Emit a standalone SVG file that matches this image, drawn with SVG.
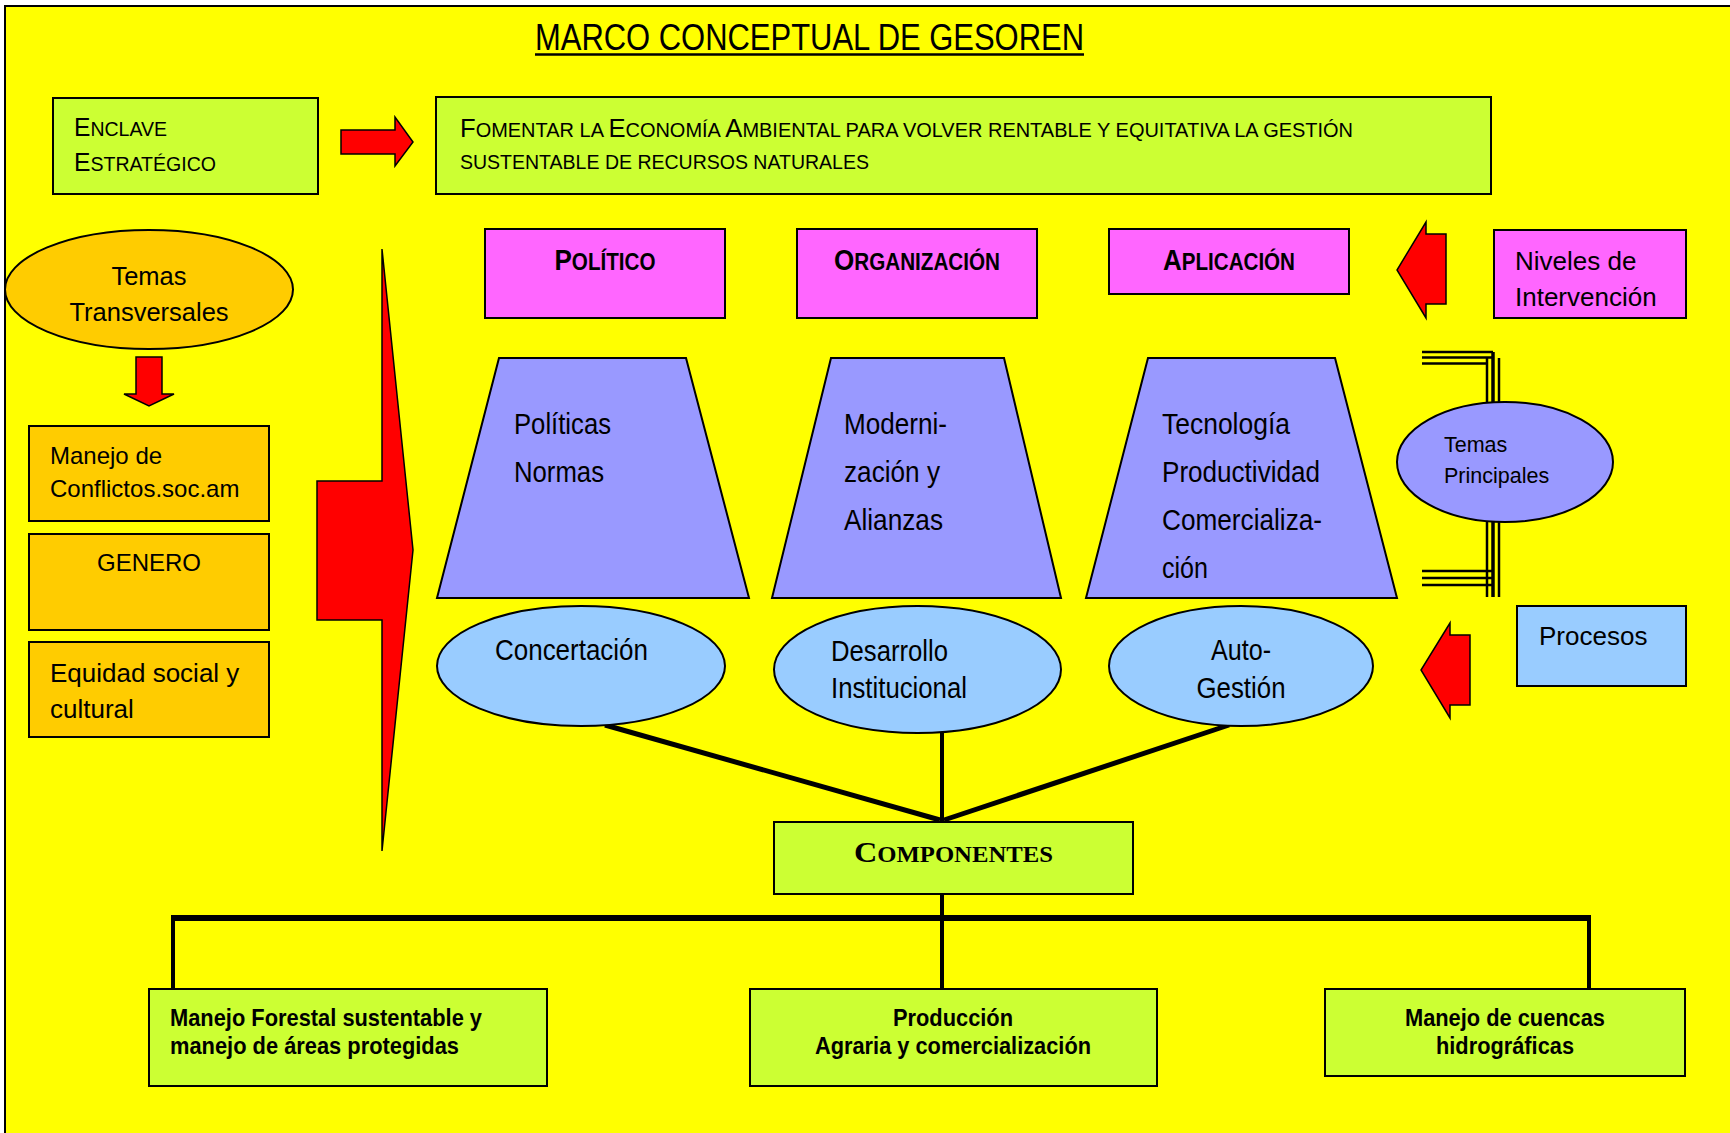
<svg xmlns="http://www.w3.org/2000/svg" width="1730" height="1133" viewBox="0 0 1730 1133">
<style>
.t{font-family:"Liberation Sans Narrow","Liberation Sans",Arial,sans-serif;fill:#000}
.r{font-family:"Liberation Sans",Arial,sans-serif;fill:#000}
.b{font-weight:bold}
.box{stroke:#000;stroke-width:2}
.g{fill:#CCFF33}
.m{fill:#FF66FF}
.o{fill:#FFCC00}
.lb{fill:#99CCFF}
.lv{fill:#9999FF}
.arr{fill:#FF0000;stroke:#000;stroke-width:1.5;stroke-linejoin:miter}
.ln{stroke:#000;fill:none}
</style>
<rect x="0" y="0" width="1730" height="1133" fill="#FFFFFF"/>
<rect x="5" y="6" width="1740" height="1140" fill="#FFFF00" stroke="#000" stroke-width="2"/>

<g id="title">
<text class="t" x="535" y="50" font-size="37" textLength="549" lengthAdjust="spacingAndGlyphs">MARCO CONCEPTUAL DE GESOREN</text>
<line x1="535" y1="54.5" x2="1084" y2="54.5" stroke="#000" stroke-width="2.5"/>
</g>

<g id="enclave">
<rect class="box g" x="53" y="98" width="265" height="96"/>
<text class="t" x="74" y="136" font-size="21" textLength="93" lengthAdjust="spacingAndGlyphs"><tspan font-size="26.5">E</tspan>NCLAVE</text>
<text class="t" x="74" y="171" font-size="21" textLength="142" lengthAdjust="spacingAndGlyphs"><tspan font-size="26.5">E</tspan>STRATÉGICO</text>
</g>

<g id="fomentar">
<rect class="box g" x="436" y="97" width="1055" height="97"/>
<text class="t" x="460" y="137" font-size="19.5" textLength="893" lengthAdjust="spacingAndGlyphs"><tspan font-size="25">F</tspan>OMENTAR LA <tspan font-size="25">E</tspan>CONOMÍA <tspan font-size="25">A</tspan>MBIENTAL PARA VOLVER RENTABLE Y EQUITATIVA LA GESTIÓN</text>
<text class="t" x="460" y="169" font-size="19.5" textLength="409" lengthAdjust="spacingAndGlyphs">SUSTENTABLE DE RECURSOS NATURALES</text>
</g>

<g id="temas-transversales">
<ellipse class="box o" cx="149" cy="289.5" rx="144" ry="59.5"/>
<text class="r" x="149" y="285" font-size="25.5" text-anchor="middle">Temas</text>
<text class="r" x="149" y="321" font-size="25.5" text-anchor="middle">Transversales</text>
</g>

<g id="manejo-conflictos">
<rect class="box o" x="29" y="426" width="240" height="95"/>
<text class="r" x="50" y="464" font-size="24">Manejo de</text>
<text class="r" x="50" y="497" font-size="24">Conflictos.soc.am</text>
</g>
<g id="genero">
<rect class="box o" x="29" y="534" width="240" height="96"/>
<text class="r" x="149" y="571" font-size="24" text-anchor="middle">GENERO</text>
</g>
<g id="equidad">
<rect class="box o" x="29" y="642" width="240" height="95"/>
<text class="r" x="50" y="682" font-size="26">Equidad social y</text>
<text class="r" x="50" y="718" font-size="26">cultural</text>
</g>

<g id="politico">
<rect class="box m" x="485" y="229" width="240" height="89"/>
<text class="t b" x="605" y="270" font-size="23" text-anchor="middle" textLength="101" lengthAdjust="spacingAndGlyphs"><tspan font-size="29">P</tspan>OLÍTICO</text>
</g>
<g id="organizacion">
<rect class="box m" x="797" y="229" width="240" height="89"/>
<text class="t b" x="917" y="270" font-size="23" text-anchor="middle" textLength="166" lengthAdjust="spacingAndGlyphs"><tspan font-size="29">O</tspan>RGANIZACIÓN</text>
</g>
<g id="aplicacion">
<rect class="box m" x="1109" y="229" width="240" height="65"/>
<text class="t b" x="1229" y="270" font-size="23" text-anchor="middle" textLength="132" lengthAdjust="spacingAndGlyphs"><tspan font-size="29">A</tspan>PLICACIÓN</text>
</g>
<g id="niveles">
<rect class="box m" x="1494" y="230" width="192" height="88"/>
<text class="r" x="1515" y="270" font-size="26">Niveles de</text>
<text class="r" x="1515" y="306" font-size="26">Intervención</text>
</g>

<g id="trap-politicas">
<polygon class="box lv" points="499,358 686,358 749,598 437,598"/>
<text class="t" x="514" y="434" font-size="29" textLength="97" lengthAdjust="spacingAndGlyphs">Políticas</text>
<text class="t" x="514" y="482" font-size="29" textLength="90" lengthAdjust="spacingAndGlyphs">Normas</text>
</g>
<g id="trap-modernizacion">
<polygon class="box lv" points="831,358 1004,358 1061,598 772,598"/>
<text class="t" x="844" y="434" font-size="29" textLength="103" lengthAdjust="spacingAndGlyphs">Moderni-</text>
<text class="t" x="844" y="482" font-size="29" textLength="96" lengthAdjust="spacingAndGlyphs">zación y</text>
<text class="t" x="844" y="530" font-size="29" textLength="99" lengthAdjust="spacingAndGlyphs">Alianzas</text>
</g>
<g id="trap-tecnologia">
<polygon class="box lv" points="1148,358 1335,358 1397,598 1086,598"/>
<text class="t" x="1162" y="434" font-size="29" textLength="128" lengthAdjust="spacingAndGlyphs">Tecnología</text>
<text class="t" x="1162" y="482" font-size="29" textLength="158" lengthAdjust="spacingAndGlyphs">Productividad</text>
<text class="t" x="1162" y="530" font-size="29" textLength="160" lengthAdjust="spacingAndGlyphs">Comercializa-</text>
<text class="t" x="1162" y="578" font-size="29" textLength="46" lengthAdjust="spacingAndGlyphs">ción</text>
</g>

<g id="connectors">
<polygon class="arr" points="341,130 395,130 395,117 413,142 395,166 395,154 341,154"/>
<polygon class="arr" points="136,357 162,357 162,394 174,394 149,406 124,394 136,394"/>
<polygon class="arr" points="382,249 413,550 382,851 382,620 317,620 317,481 382,481"/>
<polygon class="arr" points="1446,234 1426,234 1426,222 1397,270 1426,318 1426,304 1446,304"/>
<polygon class="arr" points="1470,635 1450,635 1450,623 1421,670 1450,718 1450,705 1470,705"/>
<g class="ln" stroke-width="2.5">
<polyline points="1422,352 1493,352"/>
<polyline points="1422,357.5 1493,357.5"/>
<polyline points="1422,363.5 1487,363.5"/>
<line x1="1487" y1="358" x2="1487" y2="597"/>
<line x1="1493" y1="352" x2="1493" y2="597" stroke-width="3.5"/>
<line x1="1499" y1="358" x2="1499" y2="597"/>
<polyline points="1422,571 1492,571"/>
<polyline points="1422,578 1492,578"/>
<polyline points="1422,585 1492,585"/>
</g>
<line class="ln" x1="605" y1="725" x2="940" y2="820" stroke-width="5"/>
<line class="ln" x1="942" y1="727" x2="942" y2="822" stroke-width="4"/>
<line class="ln" x1="1229" y1="725" x2="944" y2="820" stroke-width="5"/>
<line class="ln" x1="942" y1="894" x2="942" y2="989" stroke-width="4"/>
<line class="ln" x1="171" y1="918" x2="1591" y2="918" stroke-width="6"/>
<line class="ln" x1="173" y1="918" x2="173" y2="989" stroke-width="4"/>
<line class="ln" x1="1589" y1="918" x2="1589" y2="989" stroke-width="4"/>
</g>

<g id="temas-principales">
<ellipse class="box lv" cx="1505" cy="462" rx="108" ry="60"/>
<text class="r" x="1444" y="452" font-size="21.5">Temas</text>
<text class="r" x="1444" y="483" font-size="21.5">Principales</text>
</g>

<g id="procesos">
<rect class="box lb" x="1517" y="606" width="169" height="80"/>
<text class="r" x="1539" y="645" font-size="26">Procesos</text>
</g>

<g id="concertacion">
<ellipse class="box lb" cx="581" cy="666" rx="144" ry="60"/>
<text class="t" x="495" y="660" font-size="29" textLength="153" lengthAdjust="spacingAndGlyphs">Concertación</text>
</g>
<g id="desarrollo">
<ellipse class="box lb" cx="917.5" cy="669.5" rx="143.5" ry="63.5"/>
<text class="t" x="831" y="661" font-size="29" textLength="117" lengthAdjust="spacingAndGlyphs">Desarrollo</text>
<text class="t" x="831" y="698" font-size="29" textLength="136" lengthAdjust="spacingAndGlyphs">Institucional</text>
</g>
<g id="autogestion">
<ellipse class="box lb" cx="1241" cy="666" rx="132" ry="60"/>
<text class="t" x="1241" y="660" font-size="29" text-anchor="middle" textLength="60" lengthAdjust="spacingAndGlyphs">Auto-</text>
<text class="t" x="1241" y="698" font-size="29" text-anchor="middle" textLength="89" lengthAdjust="spacingAndGlyphs">Gestión</text>
</g>

<g id="componentes">
<rect class="box g" x="774" y="822" width="359" height="72"/>
<text x="953.5" y="862" font-family="'Liberation Serif','Times New Roman',serif" font-weight="bold" font-size="23" text-anchor="middle" textLength="199" lengthAdjust="spacingAndGlyphs"><tspan font-size="30">C</tspan>OMPONENTES</text>
</g>

<g id="forestal">
<rect class="box g" x="149" y="989" width="398" height="97"/>
<text class="t b" x="170" y="1026" font-size="24" textLength="312" lengthAdjust="spacingAndGlyphs">Manejo Forestal sustentable y</text>
<text class="t b" x="170" y="1054" font-size="24" textLength="289" lengthAdjust="spacingAndGlyphs">manejo de áreas protegidas</text>
</g>
<g id="produccion">
<rect class="box g" x="750" y="989" width="407" height="97"/>
<text class="t b" x="953" y="1026" font-size="24" text-anchor="middle" textLength="120" lengthAdjust="spacingAndGlyphs">Producción</text>
<text class="t b" x="953" y="1054" font-size="24" text-anchor="middle" textLength="276" lengthAdjust="spacingAndGlyphs">Agraria y comercialización</text>
</g>
<g id="cuencas">
<rect class="box g" x="1325" y="989" width="360" height="87"/>
<text class="t b" x="1505" y="1026" font-size="24" text-anchor="middle" textLength="200" lengthAdjust="spacingAndGlyphs">Manejo de cuencas</text>
<text class="t b" x="1505" y="1054" font-size="24" text-anchor="middle" textLength="138" lengthAdjust="spacingAndGlyphs">hidrográficas</text>
</g>
</svg>
